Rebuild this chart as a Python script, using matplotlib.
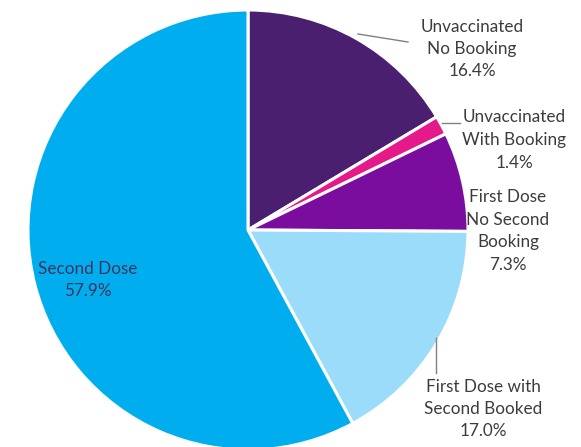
import matplotlib.pyplot as plt

# vaccination status shares (percent), clockwise from 12 o'clock
categories = ["Unvaccinated\nNo Booking", "Unvaccinated\nWith Booking",
              "First Dose\nNo Second\nBooking", "First Dose with\nSecond Booked",
              "Second Dose"]
shares = [16.4, 1.4, 7.3, 17.0, 57.9]
colors = ["#4b1f6f", "#e5198a", "#7a0d9e", "#9adcf9", "#00aeef"]

plt.rcParams['font.family'] = ['Lato', 'DejaVu Sans']

fig = plt.figure(figsize=(5.81, 4.47), dpi=100)
# pie centre at (248, 230) px, radius 220 px
ax = fig.add_axes([28 / 581, (447 - 450) / 447, 440 / 581, 440 / 447])
ax.pie(shares, colors=colors, startangle=90, counterclock=False, radius=1,
       wedgeprops=dict(edgecolor="white", linewidth=2.2))
ax.set_xlim(-1, 1)
ax.set_ylim(-1, 1)
ax.axis("off")


def px(x, y):
    return ((x - 248) / 220, (230 - y) / 220)


fs = 12.3
txt = "#3c3c3c"
# label positions in pixels (centre of text block)
label_pos = [(472, 49), (514, 140), (508, 231), (483, 409), (88, 280)]
for cat, val, (x, y) in zip(categories, shares, label_pos):
    c = "#3d3560" if cat == "Second Dose" else txt
    ax.text(*px(x, y), f"{cat}\n{val:.1f}%", ha="center", va="center",
            fontsize=fs, color=c, linespacing=1.5, clip_on=False)

# leader lines
lines = [((358, 34), (408, 42)), ((442, 123), (460, 123)), ((436, 338), (436, 373))]
for a, b in lines:
    ax.plot(*zip(px(*a), px(*b)), color="#808080", lw=1, clip_on=False)

fig.savefig("out.png", dpi=100)
